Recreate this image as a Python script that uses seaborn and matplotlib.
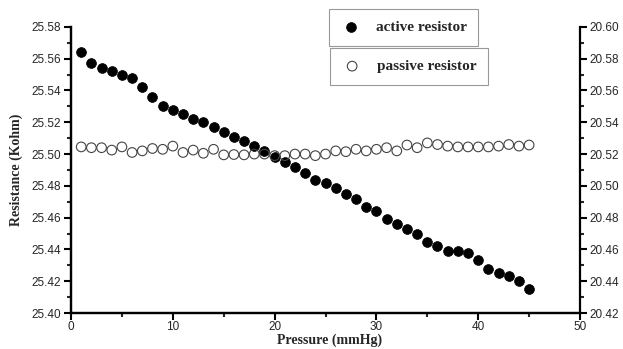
import numpy as np
import pandas as pd
import seaborn as sns
import matplotlib.pyplot as plt
from matplotlib.ticker import MultipleLocator, FormatStrFormatter

pressure = list(range(1, 46))

active = [25.564, 25.557, 25.554, 25.552, 25.550, 25.548, 25.542, 25.536, 25.530, 25.528,
          25.525, 25.522, 25.520, 25.517, 25.514, 25.511, 25.508, 25.505, 25.502, 25.498,
          25.495, 25.492, 25.488, 25.484, 25.482, 25.4785, 25.475, 25.472, 25.467, 25.464,
          25.459, 25.456, 25.453, 25.450, 25.445, 25.442, 25.439, 25.439, 25.438, 25.4335,
          25.428, 25.4255, 25.423, 25.420, 25.415]

passive = [20.5245, 20.524, 20.524, 20.5225, 20.5245, 20.521, 20.522, 20.5235, 20.523, 20.525,
           20.521, 20.5225, 20.5205, 20.523, 20.5195, 20.5197, 20.5195, 20.520, 20.520, 20.519,
           20.519, 20.520, 20.520, 20.519, 20.520, 20.522, 20.5215, 20.523, 20.522, 20.523,
           20.524, 20.522, 20.5257, 20.524, 20.527, 20.526, 20.525, 20.5245, 20.5245, 20.5245,
           20.5245, 20.525, 20.526, 20.525, 20.5257]

df = pd.DataFrame({'Pressure': pressure, 'active': active, 'passive': passive})

sns.set_style("ticks")
plt.rcParams['font.family'] = ['Liberation Sans', 'DejaVu Sans']
plt.rcParams['xtick.major.width'] = 1.5
plt.rcParams['ytick.major.width'] = 1.5
plt.rcParams['xtick.minor.width'] = 1.5
plt.rcParams['ytick.minor.width'] = 1.5

fig = plt.figure(figsize=(6.23, 3.49), dpi=100)
ax = fig.add_axes([0.114, 0.103, 0.817, 0.820])
ax2 = ax.twinx()

sns.scatterplot(data=df, x='Pressure', y='active', ax=ax, color='black', s=50,
                edgecolor='black', linewidth=0.5, label='active resistor', legend=False)
sns.scatterplot(data=df, x='Pressure', y='passive', ax=ax2, facecolor='none', s=48,
                edgecolor='#444444', linewidth=0.8, label='passive resistor', legend=False)

ax.set_xlim(0, 50)
ax.set_ylim(25.40, 25.58)
ax2.set_ylim(20.42, 20.60)

ax.xaxis.set_major_locator(MultipleLocator(10))
ax.xaxis.set_minor_locator(MultipleLocator(5))
ax.yaxis.set_major_locator(MultipleLocator(0.02))
ax.yaxis.set_minor_locator(MultipleLocator(0.01))
ax2.yaxis.set_major_locator(MultipleLocator(0.02))
ax2.yaxis.set_minor_locator(MultipleLocator(0.01))
ax.yaxis.set_major_formatter(FormatStrFormatter('%.2f'))
ax2.yaxis.set_major_formatter(FormatStrFormatter('%.2f'))

for a in (ax, ax2):
    a.tick_params(which='major', length=5, labelsize=8.5, pad=2, color='black')
    a.tick_params(which='minor', length=3)
    a.spines['top'].set_visible(False)
    for s in ('left', 'right', 'bottom'):
        a.spines[s].set_linewidth(1.6)
        a.spines[s].set_color('black')
ax.spines['right'].set_visible(False)
ax.tick_params(axis='x', pad=1)

ax.set_xlabel('Pressure (mmHg)', family='Liberation Serif', fontweight='bold', fontsize=10)
ax.set_ylabel('Resistance (Kohm)', family='Liberation Serif', fontweight='bold', fontsize=10, labelpad=6)
ax.xaxis.set_label_coords(0.508, -0.073)
ax2.set_ylabel('')

# two separate legend boxes, one per series
leg_kw = dict(frameon=True, fancybox=False, edgecolor='#999999', framealpha=1,
              borderpad=0.75, handletextpad=0.9, handlelength=1.4, borderaxespad=0,
              prop={'family': 'Liberation Serif', 'weight': 'bold', 'size': 11})
h1, l1 = ax.get_legend_handles_labels()
leg1 = ax2.legend(h1, l1, loc='upper left', bbox_to_anchor=(329 / 623, 1 - 9 / 349),
                  bbox_transform=fig.transFigure, **leg_kw)
leg1.get_frame().set_linewidth(0.8)
ax2.add_artist(leg1)
h2, l2 = ax2.get_legend_handles_labels()
leg2 = ax2.legend(h2, l2, loc='upper left', bbox_to_anchor=(330 / 623, 1 - 48 / 349),
                  bbox_transform=fig.transFigure, **leg_kw)
leg2.get_frame().set_linewidth(0.8)

fig.savefig('out.png', dpi=100)
